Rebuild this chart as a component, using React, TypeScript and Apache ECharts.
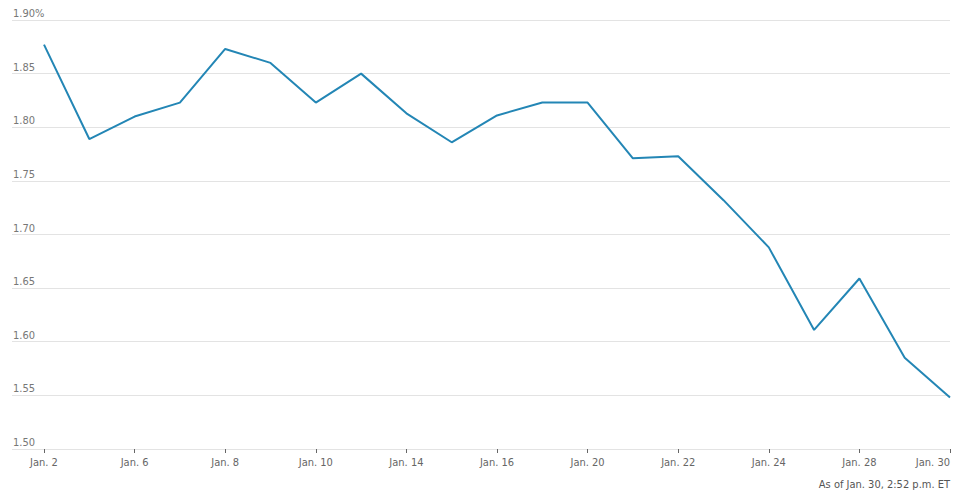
import React, { useEffect, useRef } from "react";
import * as echarts from "echarts";

const dates = [
  "Jan. 2", "Jan. 3", "Jan. 6", "Jan. 7", "Jan. 8", "Jan. 9", "Jan. 10",
  "Jan. 13", "Jan. 14", "Jan. 15", "Jan. 16", "Jan. 17", "Jan. 20", "Jan. 21",
  "Jan. 22", "Jan. 23", "Jan. 24", "Jan. 27", "Jan. 28", "Jan. 29", "Jan. 30",
];
const yields = [
  1.877, 1.789, 1.810, 1.823, 1.873, 1.860, 1.823, 1.850, 1.813, 1.786, 1.811,
  1.823, 1.823, 1.771, 1.773, 1.732, 1.688, 1.611, 1.659, 1.585, 1.548,
];
const yMin = 1.5;
const yMax = 1.9;
const yStep = 0.05;
const footnote = "As of Jan. 30, 2:52 p.m. ET";

const FONT = "'Liberation Sans Narrow', 'DejaVu Sans Condensed', 'Roboto', sans-serif";

export default function App() {
  const ref = useRef<HTMLDivElement>(null);
  useEffect(() => {
    if (!ref.current) return;
    const chart = echarts.init(ref.current, undefined, { renderer: "svg" });
    chart.setOption({
      animation: false,
      backgroundColor: "#ffffff",
      title: {
        text: footnote,
        right: 3,
        top: 479,
        padding: 0,
        textStyle: { fontSize: 11, fontWeight: "normal", color: "#555", fontFamily: FONT },
      },
      grid: [
        { left: 12, right: 3, top: 20, bottom: 45 },
        { left: 44, right: 3, top: 20, bottom: 45 },
      ],
      xAxis: [
        { gridIndex: 0, type: "value", min: 0, max: 1, show: false },
        {
          gridIndex: 1,
          type: "category",
          data: dates,
          boundaryGap: false,
          axisLine: { show: false },
          axisTick: { show: true, interval: 1, length: 4, lineStyle: { color: "#666" } },
          axisLabel: {
            interval: 1,
            margin: 8,
            fontSize: 11,
            color: "#666",
            fontFamily: FONT,
            alignMaxLabel: "right",
          },
          splitLine: { show: false },
        },
      ],
      yAxis: [
        {
          gridIndex: 0,
          type: "value",
          min: yMin,
          max: yMax,
          interval: yStep,
          axisLine: { show: false },
          axisTick: { show: false },
          splitLine: { show: true, lineStyle: { color: "#e3e3e3", width: 1 } },
          axisLabel: {
            inside: true,
            margin: 1,
            align: "left",
            verticalAlign: "bottom",
            padding: [0, 0, 1, 0],
            fontSize: 11,
            color: "#777",
            fontFamily: FONT,
            formatter: (v: number) =>
              Math.abs(v - yMax) < 1e-9 ? v.toFixed(2) + "%" : v.toFixed(2),
          },
        },
        {
          gridIndex: 1,
          type: "value",
          min: yMin,
          max: yMax,
          interval: yStep,
          show: false,
          splitLine: { show: false },
        },
      ],
      series: [
        {
          type: "line",
          xAxisIndex: 1,
          yAxisIndex: 1,
          data: yields,
          symbol: "none",
          lineStyle: { color: "#2386b5", width: 2 },
        },
      ],
    });
    return () => chart.dispose();
  }, []);
  return (
    <div
      ref={ref}
      style={{ position: "absolute", left: 0, top: 0, width: 953, height: 494 }}
    />
  );
}
